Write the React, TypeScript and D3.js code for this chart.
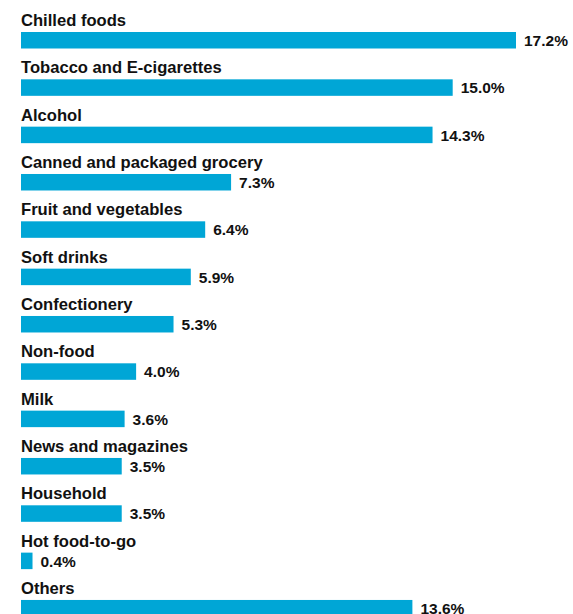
import React from "react";
import * as d3 from "d3";

const categories = [
  "Chilled foods",
  "Tobacco and E-cigarettes",
  "Alcohol",
  "Canned and packaged grocery",
  "Fruit and vegetables",
  "Soft drinks",
  "Confectionery",
  "Non-food",
  "Milk",
  "News and magazines",
  "Household",
  "Hot food-to-go",
  "Others",
];
const values = [17.2, 15.0, 14.3, 7.3, 6.4, 5.9, 5.3, 4.0, 3.6, 3.5, 3.5, 0.4, 13.6];

const W = 573;
const H = 614;
const left = 21;
const barH = 16.5;
const rowStep = 47.33;
const firstBarY = 32;

export default function App() {
  const x = d3.scaleLinear().domain([0, 17.2]).range([0, 495]);
  const y = (i: number) => firstBarY + i * rowStep;
  const font = "'Liberation Sans', Arial, sans-serif";
  return (
    <svg
      width={W}
      height={H}
      style={{ position: "absolute", left: 0, top: 0, display: "block", background: "#fff" }}
    >
      {categories.map((c, i) => (
        <g key={c}>
          <text
            x={left}
            y={y(i) - 6}
            fontFamily={font}
            fontWeight="bold"
            fontSize={16.6}
            fill="#111"
          >
            {c}
          </text>
          <rect x={left} y={y(i)} width={x(values[i])} height={barH} fill="#00a6d6" />
          <text
            x={left + x(values[i]) + 8}
            y={y(i) + barH / 2 + 5.7}
            fontFamily={font}
            fontWeight="bold"
            fontSize={15.5}
            fill="#111"
          >
            {values[i].toFixed(1)}%
          </text>
        </g>
      ))}
    </svg>
  );
}
